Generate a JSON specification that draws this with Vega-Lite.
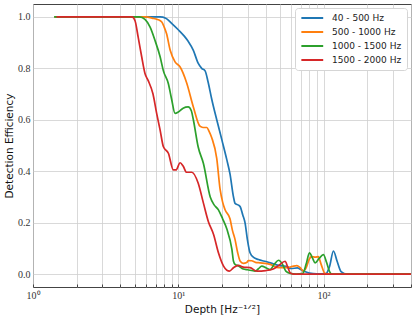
{
  "$schema": "https://vega.github.io/schema/vega-lite/v6.json",
  "autosize": {"type": "none"},
  "padding": {"left": 33, "top": 4, "right": 4, "bottom": 33},
  "width": 378,
  "height": 283,
  "background": "white",
  "config": {
    "view": {"stroke": "#444", "strokeWidth": 1},
    "axis": {
      "gridColor": "#cfcfcf", "gridWidth": 0.8, "domain": false,
      "labelFont": "Liberation Serif", "labelFontSize": 10, "labelColor": "#333",
      "titleFont": "DejaVu Sans", "titleFontSize": 10.5, "titleFontWeight": "normal", "titleColor": "#111",
      "tickColor": "#444"
    },
    "legend": {
      "labelFont": "DejaVu Sans", "labelFontSize": 9, "labelColor": "#222"
    }
  },
  "data": {"values": [
    {"s":"40 - 500 Hz","x":1.4,"y":1},{"s":"40 - 500 Hz","x":7.5,"y":1},{"s":"40 - 500 Hz","x":8.2,"y":0.995},{"s":"40 - 500 Hz","x":9.0,"y":0.975},{"s":"40 - 500 Hz","x":10,"y":0.95},{"s":"40 - 500 Hz","x":11,"y":0.925},{"s":"40 - 500 Hz","x":11.7,"y":0.905},{"s":"40 - 500 Hz","x":12.7,"y":0.87},{"s":"40 - 500 Hz","x":13.7,"y":0.82},{"s":"40 - 500 Hz","x":14.5,"y":0.8},{"s":"40 - 500 Hz","x":15.3,"y":0.79},{"s":"40 - 500 Hz","x":16,"y":0.75},{"s":"40 - 500 Hz","x":17,"y":0.68},{"s":"40 - 500 Hz","x":18.4,"y":0.6},{"s":"40 - 500 Hz","x":20,"y":0.52},{"s":"40 - 500 Hz","x":21.6,"y":0.444},{"s":"40 - 500 Hz","x":22.7,"y":0.39},{"s":"40 - 500 Hz","x":24,"y":0.3},{"s":"40 - 500 Hz","x":24.6,"y":0.275},{"s":"40 - 500 Hz","x":26,"y":0.268},{"s":"40 - 500 Hz","x":26.7,"y":0.262},{"s":"40 - 500 Hz","x":27.8,"y":0.23},{"s":"40 - 500 Hz","x":28.8,"y":0.2},{"s":"40 - 500 Hz","x":30,"y":0.13},{"s":"40 - 500 Hz","x":31.2,"y":0.083},{"s":"40 - 500 Hz","x":33,"y":0.065},{"s":"40 - 500 Hz","x":35.6,"y":0.057},{"s":"40 - 500 Hz","x":38,"y":0.052},{"s":"40 - 500 Hz","x":40.7,"y":0.048},{"s":"40 - 500 Hz","x":45,"y":0.04},{"s":"40 - 500 Hz","x":50,"y":0.033},{"s":"40 - 500 Hz","x":55,"y":0.03},{"s":"40 - 500 Hz","x":60,"y":0.022},{"s":"40 - 500 Hz","x":66,"y":0.024},{"s":"40 - 500 Hz","x":72.7,"y":0.012},{"s":"40 - 500 Hz","x":80,"y":0.004},{"s":"40 - 500 Hz","x":90,"y":0.001},{"s":"40 - 500 Hz","x":104,"y":0.002},{"s":"40 - 500 Hz","x":110,"y":0.03},{"s":"40 - 500 Hz","x":117,"y":0.09},{"s":"40 - 500 Hz","x":124,"y":0.05},{"s":"40 - 500 Hz","x":132,"y":0.01},{"s":"40 - 500 Hz","x":145,"y":0},{"s":"40 - 500 Hz","x":400,"y":0},

    {"s":"500 - 1000 Hz","x":1.4,"y":1},{"s":"500 - 1000 Hz","x":6.0,"y":1},{"s":"500 - 1000 Hz","x":6.6,"y":0.995},{"s":"500 - 1000 Hz","x":7.2,"y":0.99},{"s":"500 - 1000 Hz","x":7.7,"y":0.98},{"s":"500 - 1000 Hz","x":8.0,"y":0.96},{"s":"500 - 1000 Hz","x":8.3,"y":0.935},{"s":"500 - 1000 Hz","x":8.8,"y":0.87},{"s":"500 - 1000 Hz","x":9.5,"y":0.825},{"s":"500 - 1000 Hz","x":10.3,"y":0.805},{"s":"500 - 1000 Hz","x":11.4,"y":0.745},{"s":"500 - 1000 Hz","x":12.7,"y":0.65},{"s":"500 - 1000 Hz","x":14.1,"y":0.575},{"s":"500 - 1000 Hz","x":14.8,"y":0.57},{"s":"500 - 1000 Hz","x":15.7,"y":0.57},{"s":"500 - 1000 Hz","x":16.3,"y":0.555},{"s":"500 - 1000 Hz","x":17,"y":0.53},{"s":"500 - 1000 Hz","x":18.4,"y":0.45},{"s":"500 - 1000 Hz","x":19.4,"y":0.33},{"s":"500 - 1000 Hz","x":20.2,"y":0.28},{"s":"500 - 1000 Hz","x":21,"y":0.25},{"s":"500 - 1000 Hz","x":22.7,"y":0.215},{"s":"500 - 1000 Hz","x":23.6,"y":0.17},{"s":"500 - 1000 Hz","x":24.6,"y":0.134},{"s":"500 - 1000 Hz","x":25.6,"y":0.085},{"s":"500 - 1000 Hz","x":26.7,"y":0.05},{"s":"500 - 1000 Hz","x":28,"y":0.042},{"s":"500 - 1000 Hz","x":29.6,"y":0.045},{"s":"500 - 1000 Hz","x":30.4,"y":0.053},{"s":"500 - 1000 Hz","x":32,"y":0.052},{"s":"500 - 1000 Hz","x":34,"y":0.046},{"s":"500 - 1000 Hz","x":36.6,"y":0.044},{"s":"500 - 1000 Hz","x":42.9,"y":0.038},{"s":"500 - 1000 Hz","x":49,"y":0.025},{"s":"500 - 1000 Hz","x":55.9,"y":0.025},{"s":"500 - 1000 Hz","x":61,"y":0.03},{"s":"500 - 1000 Hz","x":65.5,"y":0.033},{"s":"500 - 1000 Hz","x":69,"y":0.025},{"s":"500 - 1000 Hz","x":72.7,"y":0.012},{"s":"500 - 1000 Hz","x":76,"y":0.025},{"s":"500 - 1000 Hz","x":80,"y":0.06},{"s":"500 - 1000 Hz","x":83,"y":0.068},{"s":"500 - 1000 Hz","x":88,"y":0.066},{"s":"500 - 1000 Hz","x":92,"y":0.068},{"s":"500 - 1000 Hz","x":96,"y":0.04},{"s":"500 - 1000 Hz","x":102.6,"y":0.002},{"s":"500 - 1000 Hz","x":110,"y":0},{"s":"500 - 1000 Hz","x":400,"y":0},

    {"s":"1000 - 1500 Hz","x":1.4,"y":1},{"s":"1000 - 1500 Hz","x":5.4,"y":1},{"s":"1000 - 1500 Hz","x":5.9,"y":0.99},{"s":"1000 - 1500 Hz","x":6.4,"y":0.96},{"s":"1000 - 1500 Hz","x":6.9,"y":0.91},{"s":"1000 - 1500 Hz","x":7.5,"y":0.845},{"s":"1000 - 1500 Hz","x":7.9,"y":0.79},{"s":"1000 - 1500 Hz","x":8.55,"y":0.74},{"s":"1000 - 1500 Hz","x":9.0,"y":0.68},{"s":"1000 - 1500 Hz","x":9.5,"y":0.625},{"s":"1000 - 1500 Hz","x":10,"y":0.63},{"s":"1000 - 1500 Hz","x":10.8,"y":0.645},{"s":"1000 - 1500 Hz","x":11.7,"y":0.65},{"s":"1000 - 1500 Hz","x":12.3,"y":0.635},{"s":"1000 - 1500 Hz","x":12.7,"y":0.6},{"s":"1000 - 1500 Hz","x":13.7,"y":0.495},{"s":"1000 - 1500 Hz","x":14.9,"y":0.43},{"s":"1000 - 1500 Hz","x":16.6,"y":0.3},{"s":"1000 - 1500 Hz","x":17.6,"y":0.27},{"s":"1000 - 1500 Hz","x":18.9,"y":0.25},{"s":"1000 - 1500 Hz","x":20.2,"y":0.215},{"s":"1000 - 1500 Hz","x":21.6,"y":0.175},{"s":"1000 - 1500 Hz","x":23.4,"y":0.096},{"s":"1000 - 1500 Hz","x":24,"y":0.05},{"s":"1000 - 1500 Hz","x":24.6,"y":0.038},{"s":"1000 - 1500 Hz","x":26,"y":0.032},{"s":"1000 - 1500 Hz","x":28,"y":0.02},{"s":"1000 - 1500 Hz","x":30,"y":0.017},{"s":"1000 - 1500 Hz","x":33.8,"y":0.012},{"s":"1000 - 1500 Hz","x":35.5,"y":0.02},{"s":"1000 - 1500 Hz","x":37.6,"y":0.031},{"s":"1000 - 1500 Hz","x":40,"y":0.025},{"s":"1000 - 1500 Hz","x":42.9,"y":0.018},{"s":"1000 - 1500 Hz","x":46,"y":0.04},{"s":"1000 - 1500 Hz","x":49,"y":0.054},{"s":"1000 - 1500 Hz","x":52,"y":0.04},{"s":"1000 - 1500 Hz","x":55,"y":0.012},{"s":"1000 - 1500 Hz","x":58.9,"y":0.003},{"s":"1000 - 1500 Hz","x":65,"y":0},{"s":"1000 - 1500 Hz","x":72,"y":0.003},{"s":"1000 - 1500 Hz","x":76,"y":0.04},{"s":"1000 - 1500 Hz","x":80,"y":0.083},{"s":"1000 - 1500 Hz","x":84,"y":0.062},{"s":"1000 - 1500 Hz","x":87.5,"y":0.044},{"s":"1000 - 1500 Hz","x":93,"y":0.06},{"s":"1000 - 1500 Hz","x":99.8,"y":0.076},{"s":"1000 - 1500 Hz","x":105,"y":0.045},{"s":"1000 - 1500 Hz","x":110,"y":0.01},{"s":"1000 - 1500 Hz","x":114,"y":0},{"s":"1000 - 1500 Hz","x":400,"y":0},

    {"s":"1500 - 2000 Hz","x":1.45,"y":1},{"s":"1500 - 2000 Hz","x":4.8,"y":1},{"s":"1500 - 2000 Hz","x":5.04,"y":0.985},{"s":"1500 - 2000 Hz","x":5.3,"y":0.92},{"s":"1500 - 2000 Hz","x":5.6,"y":0.845},{"s":"1500 - 2000 Hz","x":5.9,"y":0.78},{"s":"1500 - 2000 Hz","x":6.2,"y":0.753},{"s":"1500 - 2000 Hz","x":6.7,"y":0.7},{"s":"1500 - 2000 Hz","x":7.1,"y":0.625},{"s":"1500 - 2000 Hz","x":7.5,"y":0.56},{"s":"1500 - 2000 Hz","x":7.9,"y":0.495},{"s":"1500 - 2000 Hz","x":8.55,"y":0.47},{"s":"1500 - 2000 Hz","x":9.25,"y":0.405},{"s":"1500 - 2000 Hz","x":9.65,"y":0.405},{"s":"1500 - 2000 Hz","x":10.3,"y":0.433},{"s":"1500 - 2000 Hz","x":10.8,"y":0.42},{"s":"1500 - 2000 Hz","x":11.4,"y":0.396},{"s":"1500 - 2000 Hz","x":12.4,"y":0.396},{"s":"1500 - 2000 Hz","x":13.7,"y":0.354},{"s":"1500 - 2000 Hz","x":14.9,"y":0.276},{"s":"1500 - 2000 Hz","x":16.1,"y":0.205},{"s":"1500 - 2000 Hz","x":17.5,"y":0.154},{"s":"1500 - 2000 Hz","x":18.9,"y":0.083},{"s":"1500 - 2000 Hz","x":20.5,"y":0.031},{"s":"1500 - 2000 Hz","x":21.6,"y":0.015},{"s":"1500 - 2000 Hz","x":22.5,"y":0.012},{"s":"1500 - 2000 Hz","x":24,"y":0.025},{"s":"1500 - 2000 Hz","x":25.9,"y":0.034},{"s":"1500 - 2000 Hz","x":28,"y":0.027},{"s":"1500 - 2000 Hz","x":31.2,"y":0.025},{"s":"1500 - 2000 Hz","x":34.7,"y":0.012},{"s":"1500 - 2000 Hz","x":40,"y":0.014},{"s":"1500 - 2000 Hz","x":45,"y":0.02},{"s":"1500 - 2000 Hz","x":49,"y":0.033},{"s":"1500 - 2000 Hz","x":54.4,"y":0.05},{"s":"1500 - 2000 Hz","x":56.5,"y":0.03},{"s":"1500 - 2000 Hz","x":58.9,"y":0.005},{"s":"1500 - 2000 Hz","x":62,"y":0},{"s":"1500 - 2000 Hz","x":400,"y":0}
  ]},
  "mark": {"type": "line", "interpolate": "monotone", "strokeWidth": 1.7, "clip": true},
  "encoding": {
    "x": {
      "field": "x", "type": "quantitative",
      "scale": {"type": "log", "domain": [1, 400], "nice": false},
      "title": "Depth [Hz⁻¹ᐟ²]",
      "axis": {
        "values": [1,2,3,4,5,6,7,8,9,10,20,30,40,50,60,70,80,90,100,200,300,400],
        "labelExpr": "datum.value == 1 ? '10⁰' : datum.value == 10 ? '10¹' : datum.value == 100 ? '10²' : ''",
        "tickSize": -3, "labelPadding": 6, "titlePadding": 4, "labelFlush": false
      }
    },
    "y": {
      "field": "y", "type": "quantitative",
      "scale": {"domain": [-0.05, 1.05], "nice": false, "zero": false},
      "title": "Detection Efficiency",
      "axis": {"values": [0, 0.2, 0.4, 0.6, 0.8, 1.0], "format": ".1f", "tickSize": 0, "labelPadding": 3, "titlePadding": 3}
    },
    "color": {
      "field": "s", "type": "nominal",
      "scale": {"domain": ["40 - 500 Hz", "500 - 1000 Hz", "1000 - 1500 Hz", "1500 - 2000 Hz"], "range": ["#1f77b4", "#ff7f0e", "#2ca02c", "#d62728"]},
      "legend": {
        "title": null, "orient": "top-right", "offset": 4,
        "symbolType": "M-1,0H5", "symbolSize": 53, "symbolStrokeWidth": 2,
        "fillColor": "white", "strokeColor": "#d5d5d5", "cornerRadius": 3, "padding": 5,
        "rowPadding": 4, "labelOffset": 22
      }
    }
  }
}
